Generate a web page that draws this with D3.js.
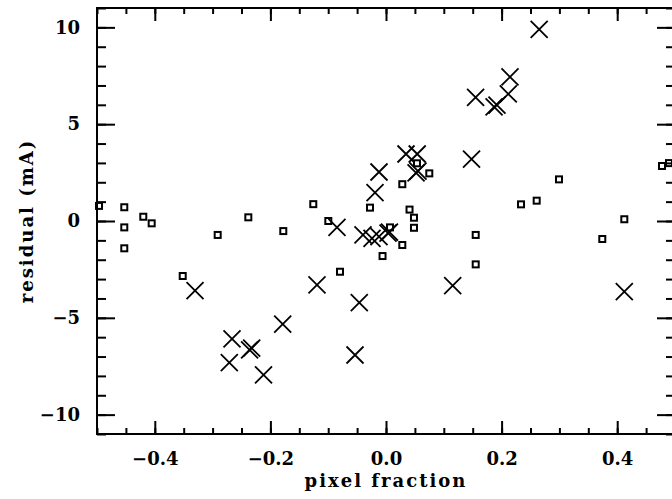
<!DOCTYPE html>
<html>
<head>
<meta charset="utf-8">
<script src="https://cdn.jsdelivr.net/npm/d3@7"></script>
<style>
  html, body { margin: 0; padding: 0; background: #fff; }
  svg { display: block; }
  .tick text { font-family: "DejaVu Serif", serif; font-weight: bold; font-size: 18px; fill: #000; }
  .title { font-family: "DejaVu Serif", serif; font-weight: bold; font-size: 18px; letter-spacing: 2px; fill: #000; }
</style>
</head>
<body>
<div id="chart"></div>
<script>
// residuals: crosses and small squares
const crossX = [0.265, 0.2145, 0.2116, 0.155, 0.187, 0.192, 0.148, 0.0346, 0.054, 0.052, 0.0554,
  -0.0121, -0.019, -0.0848, -0.0398, -0.0242, -0.0121, 0.0035, 0.006, -0.1194, -0.0462, -0.1787,
  -0.3304, 0.1154, 0.4123, -0.2664, -0.2324, -0.236, -0.2711, -0.2119, -0.0536];
const crossY = [9.90, 7.44, 6.56, 6.38, 5.89, 5.99, 3.19, 3.46, 3.46, 2.48, 2.58,
  2.53, 1.46, -0.33, -0.72, -0.90, -0.81, -0.63, -0.58, -3.30, -4.22, -5.32,
  -3.59, -3.34, -3.65, -6.09, -6.57, -6.65, -7.31, -7.95, -6.92];

const squareX = [-0.4965, -0.4528, -0.4528, -0.4528, -0.4199, -0.4054, -0.3517, -0.2912, -0.2382,
  -0.1777, -0.1258, -0.0998, -0.0796, -0.0277, -0.006, 0.0069, 0.0282, 0.0282, 0.0407, 0.0484,
  0.0484, 0.0749, 0.0536, 0.1552, 0.1552, 0.2336, 0.2607, 0.2993, 0.3742, 0.4123, 0.4775, 0.4896];
const squareY = [0.78, 0.71, -0.33, -1.41, 0.22, -0.12, -2.84, -0.72, 0.19,
  -0.52, 0.87, 0.0, -2.62, 0.69, -1.81, -0.33, 1.90, -1.24, 0.59, 0.17,
  -0.35, 2.46, 2.98, -0.72, -2.24, 0.86, 1.05, 2.15, -0.93, 0.09, 2.84, 2.99];

const xTicks = [-0.4, -0.2, 0.0, 0.2, 0.4];
const xTickLabels = ['\u22120.4', '\u22120.2', '0.0', '0.2', '0.4'];
const yTicks = [-10, -5, 0, 5, 10];
const yTickLabels = ['\u221210', '\u22125', '0', '5', '10'];

const width = 672;
const height = 499;
const plot = { left: 97, right: 675, top: 8, bottom: 434 };

const svg = d3.select('#chart')
  .append('svg')
  .attr('width', width)
  .attr('height', height);

const x = d3.scaleLinear().domain([-0.5, 0.5]).range([plot.left, plot.right]);
const y = d3.scaleLinear().domain([-11, 11]).range([plot.bottom, plot.top]);

const xMinor = x.ticks(20);
const yMinor = y.ticks(22);

// minor ticks first, majors with labels on top
function drawAxis(axis, tx, ty) {
  const g = svg.append('g')
    .attr('transform', `translate(${tx},${ty})`)
    .call(axis);
  g.select('.domain').remove();
  g.selectAll('line').attr('stroke', '#000').attr('stroke-width', 2);
  return g;
}

// bottom
drawAxis(d3.axisBottom(x).tickValues(xMinor).tickSize(-6).tickFormat(''), 0, plot.bottom);
drawAxis(d3.axisBottom(x).tickValues(xTicks).tickSize(-13).tickPadding(18)
  .tickFormat((d, i) => xTickLabels[i]), 0, plot.bottom);
// top
drawAxis(d3.axisTop(x).tickValues(xMinor).tickSize(-6).tickFormat(''), 0, plot.top);
drawAxis(d3.axisTop(x).tickValues(xTicks).tickSize(-13).tickFormat(''), 0, plot.top);
// left
drawAxis(d3.axisLeft(y).tickValues(yMinor).tickSize(-9).tickFormat(''), plot.left, 0);
drawAxis(d3.axisLeft(y).tickValues(yTicks).tickSize(-18).tickPadding(17)
  .tickFormat((d, i) => yTickLabels[i]), plot.left, 0);
// right
drawAxis(d3.axisRight(y).tickValues(yMinor).tickSize(-9).tickFormat(''), plot.right, 0);
drawAxis(d3.axisRight(y).tickValues(yTicks).tickSize(-18).tickFormat(''), plot.right, 0);

svg.append('rect')
  .attr('x', plot.left)
  .attr('y', plot.top)
  .attr('width', plot.right - plot.left)
  .attr('height', plot.bottom - plot.top)
  .attr('fill', 'none')
  .attr('stroke', '#000')
  .attr('stroke-width', 2);

// squares
const sq = 6;
svg.append('g')
  .selectAll('rect')
  .data(d3.range(squareX.length))
  .join('rect')
  .attr('x', i => x(squareX[i]) - sq / 2)
  .attr('y', i => y(squareY[i]) - sq / 2)
  .attr('width', sq)
  .attr('height', sq)
  .attr('fill', 'none')
  .attr('stroke', '#000')
  .attr('stroke-width', 2);

// crosses
const r = 8.5;
svg.append('g')
  .selectAll('path')
  .data(d3.range(crossX.length))
  .join('path')
  .attr('d', i => {
    const cx = x(crossX[i]);
    const cy = y(crossY[i]);
    return `M${cx - r},${cy - r}L${cx + r},${cy + r}M${cx - r},${cy + r}L${cx + r},${cy - r}`;
  })
  .attr('fill', 'none')
  .attr('stroke', '#000')
  .attr('stroke-width', 1.8);

// axis titles
svg.append('text')
  .attr('class', 'title')
  .attr('x', x(0))
  .attr('y', 487)
  .attr('text-anchor', 'middle')
  .text('pixel fraction');

svg.append('text')
  .attr('class', 'title')
  .attr('transform', `translate(33,${y(0)}) rotate(-90)`)
  .attr('text-anchor', 'middle')
  .text('residual (mA)');
</script>
</body>
</html>
